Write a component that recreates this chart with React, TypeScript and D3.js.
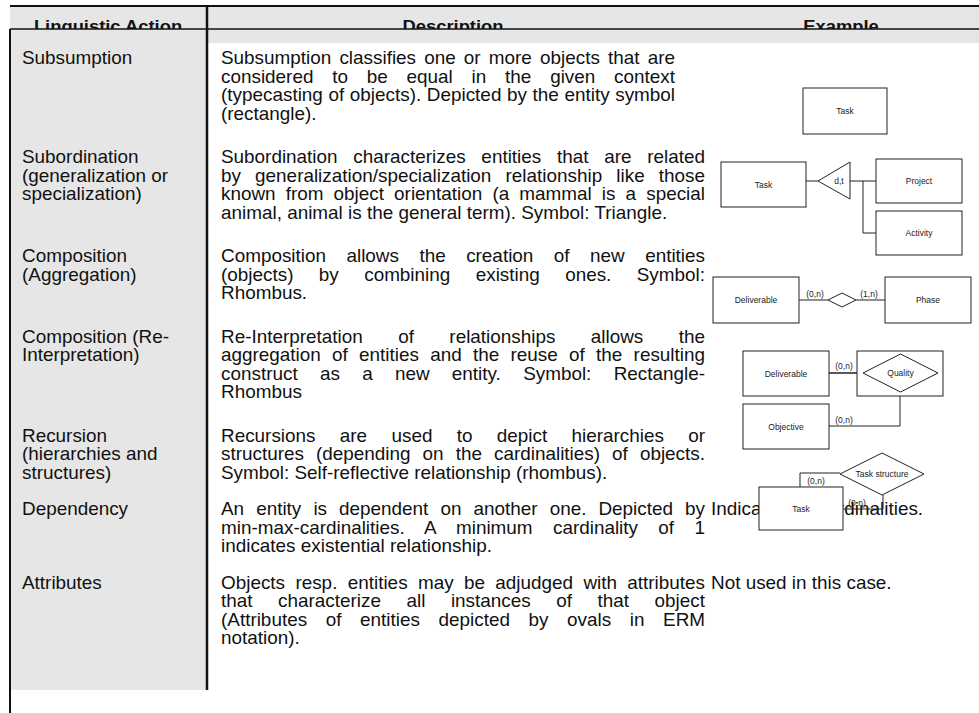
import React, { useEffect, useRef } from 'react';
import * as d3 from 'd3';

const W = 979;
const H = 713;

const headers = ['Linguistic Action', 'Description', 'Example'];

const actions = [
  ['Subsumption'],
  ['Subordination', '(generalization or', 'specialization)'],
  ['Composition', '(Aggregation)'],
  ['Composition (Re-', 'Interpretation)'],
  ['Recursion', '(hierarchies and', 'structures)'],
  ['Dependency'],
  ['Attributes'],
];

const descriptions = [
  [
    'Subsumption classifies one or more objects that are',
    'considered to be equal in the given context',
    '(typecasting of objects). Depicted by the entity symbol',
    '(rectangle).',
  ],
  [
    'Subordination characterizes entities that are related',
    'by generalization/specialization relationship like those',
    'known from object orientation (a mammal is a special',
    'animal, animal is the general term). Symbol: Triangle.',
  ],
  [
    'Composition allows the creation of new entities',
    '(objects) by combining existing ones. Symbol:',
    'Rhombus.',
  ],
  [
    'Re-Interpretation of relationships allows the',
    'aggregation of entities and the reuse of the resulting',
    'construct as a new entity. Symbol: Rectangle-',
    'Rhombus',
  ],
  [
    'Recursions are used to depict hierarchies or',
    'structures (depending on the cardinalities) of objects.',
    'Symbol: Self-reflective relationship (rhombus).',
  ],
  [
    'An entity is dependent on another one. Depicted by',
    'min-max-cardinalities. A minimum cardinality of 1',
    'indicates existential relationship.',
  ],
  [
    'Objects resp. entities may be adjudged with attributes',
    'that characterize all instances of that object',
    '(Attributes of entities depicted by ovals in ERM',
    'notation).',
  ],
];

const examples = ['', '', '', '', '', 'Indicated by cardinalities.', 'Not used in this case.'];

// entity names used in the little ERM sketches of the example column
const entityNames = ['Task', 'Project', 'Activity', 'Deliverable', 'Phase', 'Objective'];
const relationNames = ['d,t', 'Quality', 'Task structure'];
const cardinalities = ['(0,n)', '(1,n)'];

type Line = { text: string; x: number; y: number; justify: boolean; width: number };

const App: React.FC = () => {
  const ref = useRef<SVGSVGElement>(null);

  useEffect(() => {
    document.body.style.margin = '0';
    if (!ref.current) return;
    const svg = d3.select(ref.current);
    svg.selectAll('*').remove();

    const font = '"Liberation Sans", Arial, Helvetica, sans-serif';
    const ink = '#111';
    const grey = '#e6e6e6';
    const sx = 1.08; // the source text is slightly wide
    const fs = 17.5;
    const lineH = 18.5;
    const rowGaps = [25, 25, 25, 25, 18, 18];

    const colLeft = 10;
    const colSep = 207;
    const descX = 221;
    const exX = 711;
    const headerTop = 6;
    const headerRule = 29;
    const headerBottom = 43;
    const tableBottom = 690;

    // row baselines from line counts
    const firstBase = 64;
    const rowBase: number[] = [];
    descriptions.forEach((d, i) => {
      if (i === 0) rowBase.push(firstBase);
      else rowBase.push(rowBase[i - 1] + descriptions[i - 1].length * lineH + rowGaps[i - 1]);
    });

    svg.append('rect').attr('width', W).attr('height', H).attr('fill', '#fff');

    // backgrounds
    svg.append('rect')
      .attr('x', colLeft).attr('y', headerTop)
      .attr('width', W - colLeft).attr('height', headerBottom - headerTop)
      .attr('fill', grey);
    svg.append('rect')
      .attr('x', colLeft).attr('y', headerTop)
      .attr('width', colSep - colLeft).attr('height', tableBottom - headerTop)
      .attr('fill', grey);

    // header text, clipped by the rule under it
    svg.append('clipPath').attr('id', 'hclip')
      .append('rect').attr('x', 0).attr('y', 0).attr('width', W).attr('height', headerRule);
    const headerX = [108, 453, 841];
    svg.append('g').attr('clip-path', 'url(#hclip)')
      .selectAll('text')
      .data(headers)
      .join('text')
      .attr('transform', (d, i) => `translate(${headerX[i]},32) scale(${sx},1)`)
      .attr('text-anchor', 'middle')
      .attr('font-family', font)
      .attr('font-weight', 'bold')
      .attr('font-size', 17)
      .attr('fill', ink)
      .text(d => d);

    // rules
    const rule = (x1: number, y1: number, x2: number, y2: number, w: number) =>
      svg.append('line')
        .attr('x1', x1).attr('y1', y1).attr('x2', x2).attr('y2', y2)
        .attr('stroke', ink).attr('stroke-width', w);
    rule(colLeft, headerTop, W, headerTop, 2);
    rule(colLeft, headerRule, W, headerRule, 1.5);
    rule(colLeft, headerRule, colLeft, H, 2);
    rule(colSep, headerTop, colSep, tableBottom, 2.5);

    // body lines
    const lines: Line[] = [];
    actions.forEach((rows, i) => rows.forEach((t, j) =>
      lines.push({ text: t, x: 22, y: rowBase[i] + j * lineH, justify: false, width: 0 })));
    descriptions.forEach((rows, i) => rows.forEach((t, j) =>
      lines.push({
        text: t, x: descX, y: rowBase[i] + j * lineH,
        justify: j < rows.length - 1,
        width: (i === 0 ? 675 : 705) - descX,
      })));
    examples.forEach((t, i) => {
      if (t) lines.push({ text: t, x: exX, y: rowBase[i], justify: false, width: 0 });
    });

    svg.append('g')
      .selectAll('text')
      .data(lines)
      .join('text')
      .attr('transform', d => `translate(${d.x},${d.y}) scale(${sx},1)`)
      .attr('font-family', font)
      .attr('font-size', fs)
      .attr('fill', ink)
      .text(d => d.text)
      .each(function (d) {
        if (!d.justify) return;
        const node = this as SVGTextElement;
        const spaces = (d.text.match(/ /g) || []).length;
        if (!spaces) return;
        const len = node.getComputedTextLength();
        node.setAttribute('word-spacing', ((d.width / sx - len) / spaces).toFixed(2));
      });

    // example sketches
    const g = svg.append('g')
      .attr('stroke', '#222').attr('stroke-width', 1).attr('fill', 'none');
    const small = (x: number, y: number, t: string) =>
      svg.append('text')
        .attr('x', x).attr('y', y)
        .attr('text-anchor', 'middle')
        .attr('font-family', font).attr('font-size', 8.5).attr('fill', '#222')
        .text(t);
    const box = (x0: number, y0: number, x1: number, y1: number, name?: string) => {
      g.append('rect')
        .attr('x', x0).attr('y', y0).attr('width', x1 - x0).attr('height', y1 - y0)
        .attr('fill', '#fff');
      if (name) small((x0 + x1) / 2, (y0 + y1) / 2 + 3, name);
    };
    const path = (pts: [number, number][], w = 1) =>
      g.append('path').attr('d', d3.line()(pts)).attr('stroke-width', w);
    const poly = (pts: [number, number][]) =>
      g.append('path').attr('d', d3.line()(pts) + 'Z').attr('fill', '#fff');
    const diamond = (l: number, r: number, t: number, b: number, name?: string) => {
      const cx = (l + r) / 2, cy = (t + b) / 2;
      poly([[l, cy], [cx, t], [r, cy], [cx, b]]);
      if (name) small(cx, cy + 3, name);
    };

    // Subsumption
    box(803, 88, 887, 134, entityNames[0]);

    // Subordination
    path([[806, 181], [818, 181]]);
    path([[850, 181], [876, 181]]);
    path([[863, 181], [863, 233], [876, 233]]);
    box(721, 162, 806, 207, entityNames[0]);
    poly([[818, 181], [850, 162], [850, 199]]);
    small(839, 184, relationNames[0]);
    box(876, 159, 962, 203, entityNames[1]);
    box(876, 211, 962, 255, entityNames[2]);

    // Composition (Aggregation)
    path([[799, 300], [828, 300]]);
    path([[856, 300], [885, 300]]);
    box(713, 277, 799, 323, entityNames[3]);
    diamond(828, 856, 293, 307);
    box(885, 277, 971, 323, entityNames[4]);
    small(815, 297, cardinalities[0]);
    small(869, 297, cardinalities[1]);

    // Composition (Re-Interpretation)
    path([[829, 373], [863, 373]], 1.6);
    path([[829, 426], [900, 426], [900, 392]]);
    box(743, 351, 829, 396, entityNames[3]);
    box(857, 351, 943, 396);
    diamond(863, 938, 354, 392, relationNames[1]);
    box(743, 404, 829, 449, entityNames[5]);
    small(844, 369, cardinalities[0]);
    small(844, 423, cardinalities[0]);

    // Recursion
    path([[840, 473], [800, 473], [800, 487]]);
    path([[883, 495], [883, 509], [843, 509]]);
    diamond(840, 924, 453, 495, relationNames[2]);
    box(759, 487, 843, 530, entityNames[0]);
    small(816, 484, cardinalities[0]);
    small(857, 506, cardinalities[0]);
  }, []);

  return (
    <svg
      ref={ref}
      width={W}
      height={H}
      style={{ display: 'block' }}
    />
  );
};

export default App;
